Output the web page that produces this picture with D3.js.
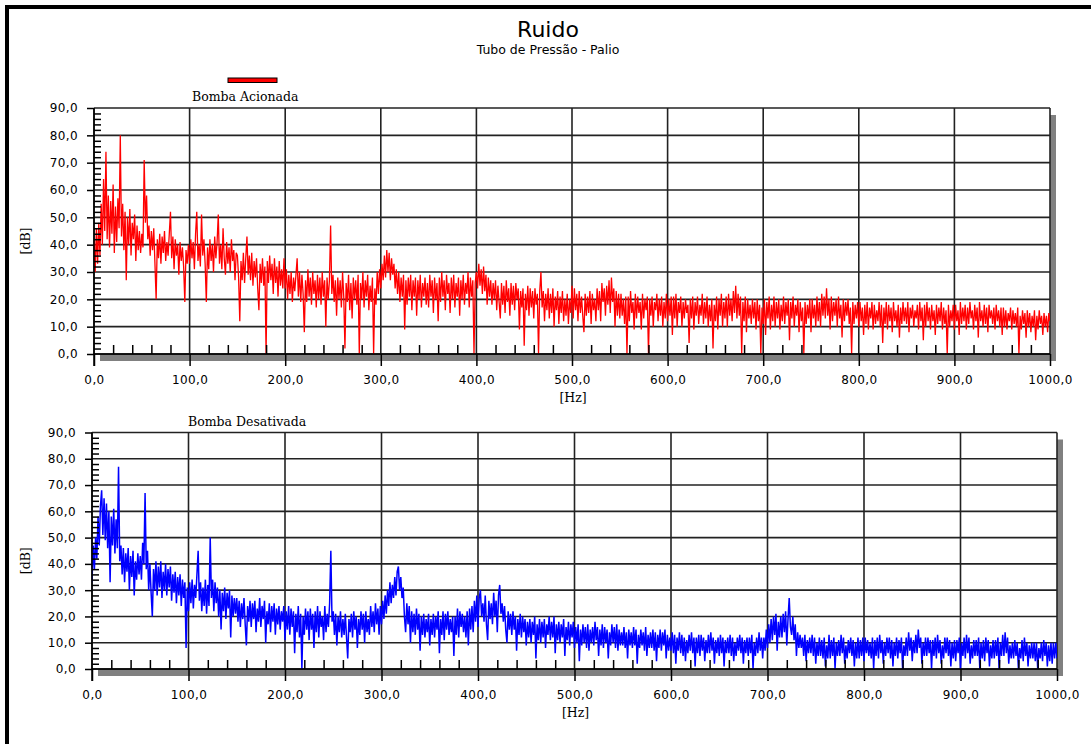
<!DOCTYPE html>
<html>
<head>
<meta charset="utf-8">
<script src="https://cdnjs.cloudflare.com/ajax/libs/d3/7.8.5/d3.min.js"></script>
<style>
  body { margin: 0; background: #fff; }
  svg { display: block; }
  .tick text { font-family: "DejaVu Sans", sans-serif; font-size: 12px; fill: #000; letter-spacing: 0.4px; }
  .tick line { stroke: #000; stroke-width: 1.5; }
</style>
</head>
<body>
<div id="chart"></div>
<script>
// spectra in dB, one sample every 1.25 Hz from 0 to 1000 Hz
// (one row = 50 Hz)
const HZ_STEP = 1.25;

const redDb = [
  42,30,46,33,48,36,55,40,64,45,74,42,58,39,56,44,62,37,54,41,57,46,80,43,55,38,52,27,50,40,53,36,48,42,51,34,47,38,45,37,
  44,39,71,48,58,42,47,36,45,38,46,33,20,42,35,44,33,43,37,45,34,41,36,44,52,35,43,31,42,36,40,29,41,34,39,32,19,38,33,40,
  33,42,35,41,31,44,52,34,40,32,51,36,42,33,19,39,31,42,34,40,30,43,35,41,51,33,40,31,46,35,29,41,33,39,30,42,34,38,27,37,
  36,28,12,34,27,37,26,35,43,29,36,27,37,25,34,28,35,24,16,33,26,35,25,32,0,34,26,36,27,33,22,35,26,32,21,34,25,31,24,35,
  24,31,20,29,22,30,19,28,23,29,35,21,30,19,29,22,8,27,19,31,21,28,18,30,22,27,17,29,20,28,18,30,21,27,10,28,20,27,47,22,
  29,19,27,14,28,20,27,17,30,21,2,26,19,29,16,26,13,28,20,27,18,29,0,26,20,30,17,27,21,29,16,25,19,28,0,24,18,30,22,31,
  24,33,27,36,28,38,30,37,27,35,29,33,24,31,22,30,19,28,21,29,9,27,18,28,21,29,16,27,21,28,14,27,20,29,17,26,21,28,18,26,
  17,29,21,27,15,28,20,26,12,28,19,30,21,27,16,29,22,26,15,28,20,29,17,26,21,28,14,27,20,29,18,26,22,30,17,28,21,27,0,26,
  30,24,33,25,31,22,32,23,29,18,28,21,27,18,26,20,27,16,25,19,13,26,18,25,15,27,19,24,14,26,18,25,16,26,20,24,9,23,17,24,
  3,22,16,25,14,24,17,23,13,24,18,22,0,23,30,17,23,12,22,16,24,13,22,15,24,10,21,16,23,11,21,15,23,12,20,14,22,11,20,15,
  25,13,24,16,22,12,23,15,21,14,8,22,14,21,15,23,11,22,16,20,12,24,16,23,12,26,19,24,14,25,18,27,15,28,19,24,10,23,14,22,
  13,22,14,20,11,21,0,21,12,23,15,19,9,22,13,21,15,19,9,22,13,20,16,21,0,20,14,21,10,19,16,22,12,20,14,21,10,19,13,22,
  12,20,14,21,7,21,13,22,10,19,15,21,10,19,13,20,15,18,4,20,13,21,9,19,14,21,11,18,14,22,11,19,13,21,10,18,12,20,2,18,
  12,21,9,20,14,22,10,19,13,21,10,22,14,20,12,23,15,25,13,22,14,21,0,19,12,21,8,20,13,18,11,20,13,19,9,20,12,18,0,17,
  11,20,7,19,13,21,9,18,12,21,10,19,13,20,9,18,12,21,11,19,14,20,5,19,13,21,10,18,14,20,8,19,12,17,0,19,11,18,13,20,
  8,20,13,18,10,21,12,19,10,22,14,21,13,24,14,20,9,21,12,19,14,20,10,21,13,18,6,20,12,19,14,20,11,17,0,19,11,18,13,19,
  10,19,12,17,7,18,11,19,9,17,13,19,9,18,11,16,12,19,10,18,4,17,11,19,9,18,12,17,8,19,12,16,10,18,6,17,11,19,12,17,
  11,19,8,17,13,18,10,16,13,18,9,19,12,17,5,18,10,19,12,17,9,18,12,16,7,18,11,17,12,19,9,17,11,16,0,18,10,16,12,18,
  9,18,12,16,7,19,11,17,12,18,9,17,11,19,13,16,9,18,12,17,6,19,12,16,10,18,11,17,8,18,13,16,11,17,9,18,12,16,10,17,
  7,17,10,16,9,15,12,17,9,16,11,15,10,17,0,14,9,16,11,15,6,16,10,15,8,14,10,16,5,14,9,16,11,14,7,15,10,14,8,15,
  12
];

const blueDb = [
  33,47,38,50,42,58,47,62,68,51,65,49,63,46,60,33,58,47,61,44,57,46,77,41,47,36,46,33,44,37,46,30,43,35,45,28,41,34,44,36,
  43,34,48,40,67,38,45,30,40,29,20,38,30,41,28,39,31,41,27,37,30,40,28,38,31,39,26,36,29,37,25,35,28,36,24,34,27,33,8,31,
  22,33,25,34,23,32,27,36,45,26,33,22,31,24,34,21,32,24,50,27,34,22,33,25,31,20,30,15,29,22,31,19,29,23,30,12,28,20,27,21,
  27,18,26,16,25,19,27,17,9,24,18,26,16,25,19,26,14,23,18,27,16,24,19,26,10,22,17,25,14,24,18,25,13,23,17,24,15,22,18,24,
  11,22,15,24,13,23,16,22,6,21,14,24,12,21,0,20,13,23,15,22,11,23,15,21,8,22,14,24,12,22,16,20,11,24,14,21,16,25,45,18,
  22,13,21,9,20,14,22,12,19,13,21,12,4,19,14,21,12,22,15,20,8,19,13,22,15,21,10,22,14,19,13,24,16,22,14,25,17,23,13,24,
  17,26,19,28,21,30,24,33,25,32,27,35,28,37,39,30,35,27,31,20,14,25,17,24,10,22,14,21,13,23,15,21,7,20,13,21,12,19,14,21,
  9,19,13,21,12,20,15,22,6,19,13,22,11,21,15,22,13,19,14,20,5,20,13,23,12,22,16,21,14,20,12,22,9,23,15,24,14,26,18,28,
  16,27,30,20,25,18,28,17,11,26,19,25,17,29,20,26,14,28,32,21,25,18,24,15,10,22,15,21,13,22,15,20,7,19,13,21,12,20,14,19,
  9,18,12,19,10,18,13,20,4,17,11,19,10,18,12,19,8,17,13,20,11,18,12,20,6,17,11,18,10,17,12,19,5,16,11,18,9,17,12,18,
  8,16,10,17,3,15,9,17,10,16,8,17,7,15,10,16,9,18,11,16,5,15,9,17,8,16,10,15,4,14,9,17,10,16,8,17,7,15,9,14,
  9,16,8,14,4,15,9,14,8,16,9,15,2,13,8,15,9,14,7,16,5,13,8,14,8,15,7,14,3,13,8,15,7,14,9,15,4,13,7,12,
  7,14,6,13,2,12,7,14,6,13,5,12,3,11,6,13,7,14,6,12,1,12,6,13,5,13,7,12,3,11,6,13,6,14,7,12,2,11,6,12,
  5,13,6,12,1,11,6,12,6,13,5,12,3,10,5,12,7,13,6,12,2,11,6,12,5,12,6,13,0,10,5,12,6,14,7,12,4,12,7,15,
  8,17,10,19,11,20,13,21,7,18,12,20,12,21,14,22,9,19,27,16,13,20,11,17,5,14,8,13,8,12,5,13,3,11,6,12,6,13,5,12,
  2,10,5,12,5,11,4,12,1,9,4,13,4,11,5,12,0,10,5,11,5,13,6,12,2,9,4,11,6,12,5,11,1,10,4,12,4,11,5,12,
  3,12,6,11,5,10,4,12,0,11,5,12,4,13,6,11,2,10,5,12,6,12,4,11,1,10,5,12,4,11,6,12,0,9,5,12,5,14,7,12,
  3,11,6,13,6,15,8,12,2,10,5,12,5,12,6,11,0,11,5,12,4,13,6,11,2,9,4,12,6,12,5,11,1,10,4,11,3,11,6,12,
  0,10,5,12,4,13,6,12,2,9,4,11,5,11,5,12,0,10,4,11,3,12,6,11,1,9,4,11,4,11,5,12,0,10,5,13,5,14,6,12,
  2,9,4,10,4,11,5,10,0,8,4,11,3,12,5,10,1,9,4,10,4,10,3,10,0,8,4,10,3,11,5,10,1,9,3,10,2,10,4,10,
  4
];

const xTicks = [0, 100, 200, 300, 400, 500, 600, 700, 800, 900, 1000];
const yTicks = [0, 10, 20, 30, 40, 50, 60, 70, 80, 90];
const panelTitles = ["Bomba Acionada", "Bomba Desativada"];
const seriesColors = ["#ff0000", "#0000ff"];

const W = 1091, H = 744;
const fmt = d => d.toFixed(1).replace(".", ",");

const svg = d3.select("#chart").append("svg")
  .attr("width", W)
  .attr("height", H);

// outer frame (only left and top edges are visible)
svg.append("rect").attr("x", 5).attr("y", 5).attr("width", W - 5).attr("height", 4).attr("fill", "#000");
svg.append("rect").attr("x", 5).attr("y", 5).attr("width", 4).attr("height", H - 5).attr("fill", "#000");

// titles
svg.append("text")
  .attr("x", 548).attr("y", 37)
  .attr("text-anchor", "middle")
  .style("font-family", "'DejaVu Sans', sans-serif")
  .style("font-size", "22px")
  .text("Ruido");

svg.append("text")
  .attr("x", 548).attr("y", 54)
  .attr("text-anchor", "middle")
  .style("font-family", "'DejaVu Sans', sans-serif")
  .style("font-size", "12.5px")
  .text("Tubo de Pressão - Palio");

// legend swatch for the first series
svg.append("rect")
  .attr("x", 228).attr("y", 78)
  .attr("width", 49).attr("height", 4.5)
  .attr("fill", seriesColors[0])
  .attr("stroke", "#000")
  .attr("stroke-width", 1);

function drawPanel(p) {
  const x = d3.scaleLinear().domain([0, 1000]).range([p.left, p.right]);
  const y = d3.scaleLinear().domain([0, 90]).range([p.bottom, p.top]);
  const g = svg.append("g");

  // drop shadow + plot background
  g.append("rect")
    .attr("x", x(0) + 6).attr("y", y(90) + 7)
    .attr("width", x(1000) - x(0)).attr("height", y(0) - y(90))
    .attr("fill", "#808080");
  g.append("rect")
    .attr("x", x(0)).attr("y", y(90))
    .attr("width", x(1000) - x(0)).attr("height", y(0) - y(90))
    .attr("fill", "#fff");

  // grid
  g.append("g").selectAll("line").data(yTicks).join("line")
    .attr("x1", x(0)).attr("x2", x(1000))
    .attr("y1", d => y(d)).attr("y2", d => y(d))
    .attr("stroke", "#222").attr("stroke-width", 1.6);
  g.append("g").selectAll("line").data(xTicks).join("line")
    .attr("x1", d => x(d)).attr("x2", d => x(d))
    .attr("y1", y(0)).attr("y2", y(90))
    .attr("stroke", "#222").attr("stroke-width", 1.6);

  // spectrum (clipped to the plot)
  const clipId = "clip-" + p.title.replace(/\s/g, "");
  g.append("clipPath").attr("id", clipId)
    .append("rect")
    .attr("x", x(0)).attr("y", y(90))
    .attr("width", x(1000) - x(0)).attr("height", y(0) - y(90));
  const line = d3.line()
    .x((d, i) => x(i * HZ_STEP))
    .y(d => y(d));
  g.append("path")
    .datum(p.values)
    .attr("clip-path", `url(#${clipId})`)
    .attr("fill", "none")
    .attr("stroke", p.color)
    .attr("stroke-width", p.width)
    .attr("stroke-linejoin", "bevel")
    .attr("d", line);

  // minor ticks, drawn inside the plot
  const yMinor = d3.range(2, 90, 2).filter(v => v % 10 !== 0);
  const xMinor = d3.range(20, 1000, 20).filter(v => v % 100 !== 0);
  g.append("g")
    .attr("transform", `translate(${x(0)},0)`)
    .call(d3.axisRight(y).tickValues(yMinor).tickSize(7).tickFormat(""))
    .call(a => a.select(".domain").remove());
  g.append("g")
    .attr("transform", `translate(0,${y(0)})`)
    .call(d3.axisTop(x).tickValues(xMinor).tickSize(9).tickFormat(""))
    .call(a => a.select(".domain").remove());

  // major axes
  g.append("g")
    .attr("transform", `translate(${x(0)},0)`)
    .call(d3.axisLeft(y).tickValues(yTicks).tickSize(7).tickPadding(9).tickFormat(fmt))
    .call(a => a.select(".domain").remove());
  g.append("g")
    .attr("transform", `translate(0,${y(0)})`)
    .call(d3.axisBottom(x).tickValues(xTicks).tickSize(12).tickPadding(9).tickFormat(fmt))
    .call(a => a.select(".domain").remove());

  g.append("line")
    .attr("x1", x(0)).attr("x2", x(0))
    .attr("y1", y(90)).attr("y2", y(0) + 12)
    .attr("stroke", "#000").attr("stroke-width", 1.5);
  g.append("line")
    .attr("x1", x(0)).attr("x2", x(1000))
    .attr("y1", y(0)).attr("y2", y(0))
    .attr("stroke", "#000").attr("stroke-width", 1.5);

  // labels
  g.append("text")
    .attr("x", p.titleX).attr("y", y(90) - 7)
    .style("font-family", "'DejaVu Serif', serif")
    .style("font-size", "12.5px")
    .text(p.title);

  g.append("text")
    .attr("x", (x(0) + x(1000)) / 2 + 1).attr("y", y(0) + 48)
    .attr("text-anchor", "middle")
    .style("font-family", "'DejaVu Serif', serif")
    .style("font-size", "12.5px")
    .text("[Hz]");

  g.append("text")
    .attr("transform", `translate(30,${(y(0) + y(90)) / 2 + 10}) rotate(-90)`)
    .attr("text-anchor", "middle")
    .style("font-family", "'DejaVu Serif', serif")
    .style("font-size", "12.5px")
    .text("[dB]");
}

drawPanel({ left: 94, right: 1050, top: 108, bottom: 354, width: 1.3,
  values: redDb, color: seriesColors[0], title: panelTitles[0], titleX: 192 });
drawPanel({ left: 92, right: 1057, top: 432.5, bottom: 669, width: 1.5,
  values: blueDb, color: seriesColors[1], title: panelTitles[1], titleX: 188 });
</script>
</body>
</html>
